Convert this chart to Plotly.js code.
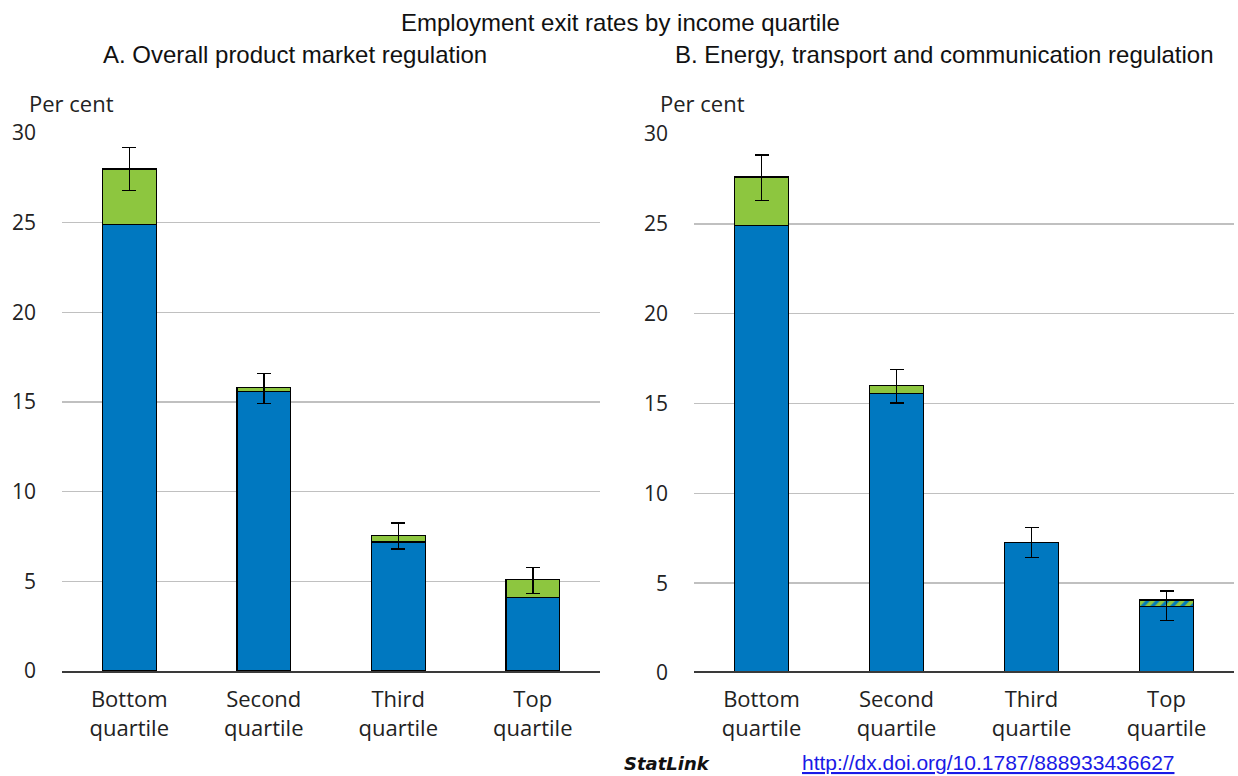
<!DOCTYPE html>
<html>
<head>
<meta charset="utf-8">
<script src="https://cdn.plot.ly/plotly-3.0.1.min.js"></script>
<style>html,body{margin:0;padding:0;background:#fff;}#chart{width:1238px;height:776px;}</style>
</head>
<body>
<div id="chart"></div>
<script>
// Categories
var categories = ["Bottom quartile", "Second quartile", "Third quartile", "Top quartile"];
var categoryLabels = ["Bottom<br>quartile", "Second<br>quartile", "Third<br>quartile", "Top<br>quartile"];

// Panel A: Overall product market regulation
var aBlue  = [24.9, 15.6, 7.2, 4.1];
var aGreen = [3.1, 0.22, 0.36, 1.0];
var aErrHigh = [29.2, 16.6, 8.24, 5.78];
var aErrLow  = [26.8, 14.93, 6.79, 4.33];

// Panel B: Energy, transport and communication regulation
var bBlue  = [24.9, 15.55, 7.25, 3.7];
var bGreen = [2.7, 0.45, 0.0, 0.36];
var bErrHigh = [28.83, 16.9, 8.09, 4.56];
var bErrLow  = [26.3, 15.04, 6.42, 2.91];
var bPattern = ["", "", "", "/"];

var yTicks = [0, 5, 10, 15, 20, 25, 30];

var BLUE = "#0078C0";
var GREEN = "#8DC63F";
var FONT = "Open Sans";

function errs(blue, green, hi, lo) {
  var plus = [], minus = [];
  for (var i = 0; i < blue.length; i++) {
    var t = blue[i] + green[i];
    plus.push(hi[i] - t);
    minus.push(t - lo[i]);
  }
  return {type: "data", symmetric: false, array: plus, arrayminus: minus,
          color: "#000", thickness: 1.5, width: 7};
}

var outline = {color: "#000", width: 1.3};

var traces = [
  {type: "bar", x: categories, y: aBlue, xaxis: "x", yaxis: "y",
   marker: {color: BLUE, line: outline}, showlegend: false, hoverinfo: "y"},
  {type: "bar", x: categories, y: aGreen, xaxis: "x", yaxis: "y",
   marker: {color: GREEN, line: outline}, showlegend: false, hoverinfo: "y",
   error_y: errs(aBlue, aGreen, aErrHigh, aErrLow)},
  {type: "bar", x: categories, y: bBlue, xaxis: "x2", yaxis: "y2",
   marker: {color: BLUE, line: outline}, showlegend: false, hoverinfo: "y"},
  {type: "bar", x: categories, y: bGreen, xaxis: "x2", yaxis: "y2",
   marker: {color: GREEN, line: outline,
            pattern: {shape: bPattern, fgcolor: BLUE, bgcolor: GREEN, size: 7, solidity: 0.45}},
   showlegend: false, hoverinfo: "y",
   error_y: errs(bBlue, bGreen, bErrHigh, bErrLow)}
];

function xax(domain) {
  return {domain: domain, type: "category", tickmode: "array", tickvals: categories, ticktext: categoryLabels,
          showline: true, linecolor: "#3a3a3a", linewidth: 1.5, showgrid: false, ticks: "",
          ticklabelstandoff: 8,
          tickfont: {family: FONT, size: 22, color: "#222"}, fixedrange: true};
}
function yax(domain, anchor) {
  return {domain: domain, anchor: anchor, range: [0, 30], tickmode: "array", tickvals: yTicks,
          showgrid: true, gridcolor: "#c0c0c0", gridwidth: 1.5, zeroline: false, showline: false,
          ticks: "", ticklabelstandoff: 25,
          tickfont: {family: FONT, size: 21, color: "#222"}, fixedrange: true};
}

var layout = {
  width: 1238, height: 776,
  margin: {l: 0, r: 0, t: 0, b: 0},
  paper_bgcolor: "#fff", plot_bgcolor: "#fff",
  barmode: "stack", bargap: 0.6,
  xaxis: xax([62 / 1238, 600 / 1238]),
  yaxis: yax([105 / 776, 643 / 776], "x"),
  xaxis2: xax([694 / 1238, 1234 / 1238]),
  yaxis2: yax([103 / 776, 642 / 776], "x2"),
  annotations: [
    {text: "Employment exit rates by income quartile", xref: "paper", yref: "paper",
     x: 620 / 1238, y: 1 - 22 / 776, xanchor: "center", yanchor: "middle", showarrow: false,
     font: {family: "Liberation Sans", size: 24, color: "#111"}},
    {text: "A. Overall product market regulation", xref: "paper", yref: "paper",
     x: 295 / 1238, y: 1 - 55 / 776, xanchor: "center", yanchor: "middle", showarrow: false,
     font: {family: "Liberation Sans", size: 24, color: "#111"}},
    {text: "B. Energy, transport and communication regulation", xref: "paper", yref: "paper",
     x: 944 / 1238, y: 1 - 55 / 776, xanchor: "center", yanchor: "middle", showarrow: false,
     font: {family: "Liberation Sans", size: 24, color: "#111"}},
    {text: "Per cent", xref: "paper", yref: "paper",
     x: 27 / 1238, y: 1 - 103 / 776, xanchor: "left", yanchor: "middle", showarrow: false,
     font: {family: FONT, size: 22, color: "#222"}},
    {text: "Per cent", xref: "paper", yref: "paper",
     x: 658 / 1238, y: 1 - 103 / 776, xanchor: "left", yanchor: "middle", showarrow: false,
     font: {family: FONT, size: 22, color: "#222"}},
    {text: "<b><i>StatLink</i></b>", xref: "paper", yref: "paper",
     x: 622 / 1238, y: 0, xanchor: "left", yanchor: "bottom", showarrow: false,
     font: {family: "DejaVu Sans", size: 18, color: "#111"}},
    {text: "<u>http://dx.doi.org/10.1787/888933436627</u>", xref: "paper", yref: "paper",
     x: 800 / 1238, y: 0, xanchor: "left", yanchor: "bottom", showarrow: false,
     font: {family: "Liberation Sans", size: 21, color: "#1a1ae6"}}
  ]
};

Plotly.newPlot("chart", traces, layout, {displayModeBar: false, staticPlot: true});
</script>
</body>
</html>
